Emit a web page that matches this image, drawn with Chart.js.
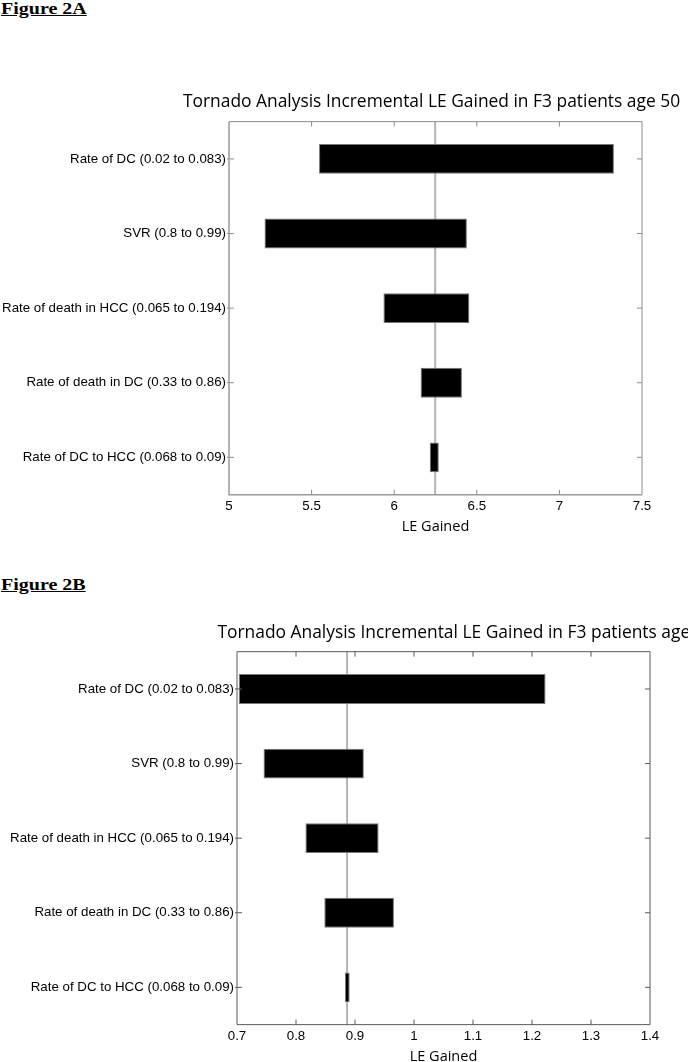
<!DOCTYPE html>
<html>
<head>
<meta charset="utf-8">
<script src="https://cdn.jsdelivr.net/npm/chart.js@4.4.1/dist/chart.umd.min.js"></script>
<style>
  html, body { margin: 0; padding: 0; background: #fff; }
  body { width: 688px; height: 1062px; overflow: hidden; position: relative; }
  .fig { position: absolute; left: 1px; font: bold 16px/20px "Liberation Serif", serif; text-decoration: underline; color: #000; transform: scaleX(1.25); transform-origin: 0 0; white-space: nowrap; }
  .wrap { position: absolute; left: 0; }
</style>
</head>
<body>
<div class="fig" style="top:-1px">Figure 2A</div>
<div class="wrap" style="top:80px;width:863px;height:456px"><canvas id="graficaA"></canvas></div>
<div class="fig" style="top:575px">Figure 2B</div>
<div class="wrap" style="top:612px;width:932px;height:454px"><canvas id="graficaB"></canvas></div>
<script>
const categorias = [
  "Rate of DC (0.02 to 0.083)",
  "SVR (0.8 to 0.99)",
  "Rate of death in HCC (0.065 to 0.194)",
  "Rate of death in DC (0.33 to 0.86)",
  "Rate of DC to HCC (0.068 to 0.09)"
];
const titulo = "Tornado Analysis Incremental LE Gained in F3 patients age 50";
const tituloEje = "LE Gained";

// Figura 2A
const bajoA = [5.545, 5.215, 5.935, 6.16, 6.215];
const altoA = [7.33, 6.44, 6.455, 6.41, 6.27];
const baseA = 6.248;
const ticksA = [5, 5.5, 6, 6.5, 7, 7.5];

// Figura 2B
const bajoB = [0.703, 0.745, 0.816, 0.848, 0.883];
const altoB = [1.223, 0.915, 0.94, 0.966, 0.891];
const baseB = 0.8865;
const ticksB = [0.7, 0.8, 0.9, 1.0, 1.1, 1.2, 1.3, 1.4];

const marco = {
  id: "marco",
  beforeDatasetsDraw(chart, args, o) {
    const { ctx, chartArea: a, scales: { x } } = chart;
    const px = x.getPixelForValue(o.base);
    ctx.save();
    ctx.strokeStyle = o.baseColor;
    ctx.lineWidth = o.baseWidth;
    ctx.beginPath();
    ctx.moveTo(px, a.top);
    ctx.lineTo(px, a.bottom);
    ctx.stroke();
    ctx.restore();
  },
  afterDraw(chart, args, o) {
    const { ctx, chartArea: a, scales: { x, y } } = chart;
    const t = 5;
    ctx.save();
    ctx.strokeStyle = o.color;
    ctx.lineWidth = 1;
    ctx.beginPath();
    ctx.moveTo(a.left, a.top); ctx.lineTo(a.right, a.top); ctx.lineTo(a.right, a.bottom);
    x.ticks.forEach(tk => {
      const px = x.getPixelForValue(tk.value);
      if (px <= a.left + 1 || px >= a.right - 1) return;
      ctx.moveTo(px, a.top); ctx.lineTo(px, a.top + t);
      ctx.moveTo(px, a.bottom); ctx.lineTo(px, a.bottom - t);
    });
    y.ticks.forEach((tk, i) => {
      const py = y.getPixelForTick(i);
      ctx.moveTo(a.right, py); ctx.lineTo(a.right - t, py);
      ctx.moveTo(a.left - 2, py); ctx.lineTo(a.left + t, py);
    });
    ctx.stroke();
    ctx.strokeStyle = o.axisColor;
    ctx.lineWidth = o.axisWidth;
    ctx.beginPath();
    ctx.moveTo(a.left, a.top); ctx.lineTo(a.left, a.bottom); ctx.lineTo(a.right, a.bottom);
    ctx.stroke();
    ctx.restore();
  }
};

function crearGrafica(id, bajo, alto, base, ticks, estilo) {
  const ctx = document.getElementById(id);
  return new Chart(ctx, {
    type: "bar",
    data: {
      labels: categorias,
      datasets: [{
        data: bajo.map((v, i) => [v, alto[i]]),
        backgroundColor: "#000",
        borderColor: "#777",
        borderWidth: 1,
        borderSkipped: false,
        barPercentage: 0.4,
        categoryPercentage: 1
      }]
    },
    options: {
      indexAxis: "y",
      responsive: true,
      maintainAspectRatio: false,
      animation: false,
      layout: { padding: 0 },
      plugins: {
        legend: { display: false },
        tooltip: { enabled: false },
        title: {
          display: true,
          text: estilo.titulo,
          color: "#000",
          font: { family: "Open Sans", size: 17.4, weight: "normal" },
          padding: { top: estilo.tituloArriba, bottom: estilo.tituloAbajo }
        },
        marco: {
          base: base,
          baseColor: estilo.baseColor,
          baseWidth: estilo.baseWidth,
          color: estilo.color,
          axisColor: estilo.axisColor,
          axisWidth: estilo.axisWidth
        }
      },
      scales: {
        x: {
          type: "linear",
          min: ticks[0],
          max: ticks[ticks.length - 1],
          afterBuildTicks: s => { s.ticks = ticks.map(v => ({ value: v })); },
          grid: { display: false, drawTicks: false },
          border: { display: false },
          ticks: {
            color: "#000",
            padding: 4,
            font: { family: "Liberation Sans", size: 13.3 },
            callback: v => String(+v.toFixed(2))
          },
          title: {
            display: true,
            text: tituloEje,
            color: "#000",
            font: { family: "Open Sans", size: 14.5 },
            padding: { top: 0, bottom: 0 }
          }
        },
        y: {
          type: "category",
          afterFit: s => { s.width = estilo.izquierda; },
          grid: { display: false, drawTicks: false },
          border: { display: false },
          ticks: {
            color: "#000",
            padding: 3,
            font: { family: "Liberation Sans", size: 13.3 }
          }
        },
        yR: {
          type: "category",
          position: "right",
          afterFit: s => { s.width = estilo.derecha; },
          grid: { display: false, drawTicks: false },
          border: { display: false },
          ticks: { display: false }
        }
      }
    },
    plugins: [marco]
  });
}

crearGrafica("graficaA", bajoA, altoA, baseA, ticksA, {
  titulo: titulo,
  tituloArriba: 11.25, tituloAbajo: 9.5,
  izquierda: 229, derecha: 221,
  baseColor: "#b4b4b4", baseWidth: 2,
  color: "#8c8c8c", axisColor: "#9a9a9a", axisWidth: 1.5
});

crearGrafica("graficaB", bajoB, altoB, baseB, ticksB, {
  titulo: titulo,
  tituloArriba: 11.05, tituloAbajo: 7.75,
  izquierda: 237, derecha: 282,
  baseColor: "#6e6e6e", baseWidth: 1,
  color: "#5a5a5a", axisColor: "#5a5a5a", axisWidth: 1
});
</script>
</body>
</html>
